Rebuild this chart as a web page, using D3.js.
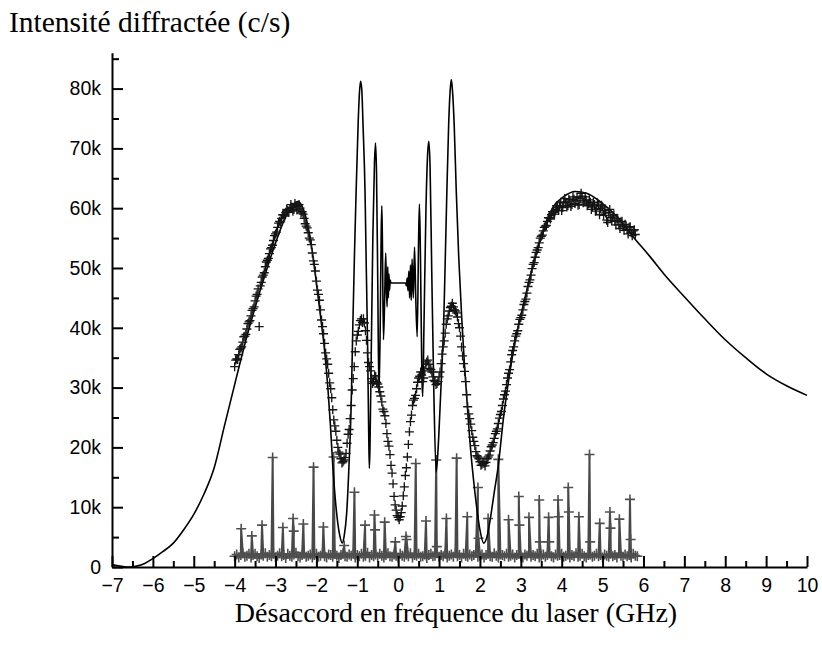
<!DOCTYPE html>
<html><head><meta charset="utf-8">
<script src="https://cdn.jsdelivr.net/npm/d3@7"></script>
<style>body{margin:0;background:#fff}</style></head>
<body><svg id="c" width="822" height="648"></svg>
<script>
// ---------- DATA ----------
// theoretical curve (GHz, kcounts/s)
const theoryX = [-7.0,-6.85,-6.7,-6.55,-6.4,-6.2,-6.0,-5.75,-5.5,-5.25,-5.0,-4.75,-4.5,-4.25,-4.0,-3.75,-3.5,-3.25,-3.0,-2.75,-2.6,-2.45,-2.35,-2.2,-2.1,-2.0,-1.9,-1.8,-1.72,-1.66,-1.6,-1.54,-1.48,-1.42,-1.37,-1.32,-1.26,-1.2,-1.15,-1.11,-1.07,-1.03,-0.98,-0.95,-0.92,-0.89,-0.86,-0.81,-0.78,-0.75,-0.72,-0.705,-0.69,-0.66,-0.62,-0.58,-0.555,-0.53,-0.5,-0.47,-0.44,-0.415,-0.40,-0.385,-0.36,-0.33,-0.305,-0.285,-0.27,-0.255,-0.24,-0.225,-0.21,-0.195,-0.18,0.18,0.20,0.22,0.24,0.26,0.28,0.30,0.32,0.34,0.37,0.40,0.43,0.465,0.50,0.52,0.545,0.58,0.60,0.63,0.68,0.72,0.75,0.78,0.82,0.87,0.93,0.97,1.02,1.08,1.11,1.15,1.19,1.235,1.27,1.30,1.33,1.37,1.42,1.48,1.56,1.62,1.69,1.78,1.84,1.92,2.0,2.09,2.17,2.25,2.35,2.45,2.57,2.74,2.90,3.07,3.31,3.55,3.80,4.04,4.33,4.61,4.94,5.35,5.75,6.16,6.5,7.0,7.5,8.0,8.5,9.0,9.5,10.0];
const theoryY = [0.4,0.2,0.05,0,0.15,0.6,1.4,2.6,4.0,6.2,8.8,12.2,16.6,23.6,30.5,37.3,43.4,49.0,54.2,58.6,60.3,61.1,60.3,56.8,52.8,47.5,42.0,36.2,30.0,24.0,17.0,11.5,7.5,5.0,4.0,5.2,9.0,17.5,27.0,40.0,52.0,62.5,74.0,79.0,81.2,79.8,74.0,62.5,50.0,38.0,22.0,16.5,20.0,35.0,55.0,67.5,70.9,66.0,48.0,29.0,40.0,56.0,60.4,54.0,38.0,45.0,52.5,46.0,43.5,50.2,45.0,49.0,46.3,48.0,47.5,47.5,47.0,48.3,46.2,49.5,45.0,50.5,44.6,51.5,45.0,53.5,45.0,38.5,55.0,60.7,52.0,32.0,28.5,40.0,60.0,69.0,71.2,67.0,50.0,30.0,15.9,19.0,26.0,35.0,40.0,51.0,62.5,74.0,79.5,81.5,79.5,74.0,63.0,52.0,41.0,34.0,27.0,19.0,14.8,10.0,6.2,4.0,5.0,7.9,12.5,17.0,24.6,32.9,39.1,44.1,50.8,56.4,60.3,61.9,62.8,62.5,61.1,58.6,55.2,51.9,49.0,45.2,41.5,38.0,35.0,32.3,30.3,28.7];

// measured diffracted intensity (k c/s): run A from -4.000 GHz, run B from -3.975 GHz, both in 0.05 GHz steps
const measStartA = -4.0, measStartB = -3.975, measStep = 0.05;
const measA = [33.5,34.8,35.5,36.6,37.6,38.6,39.8,41.0,42.0,43.2,44.5,45.6,40.2,47.6,48.8,50.2,51.3,52.4,53.4,54.6,
55.7,56.8,57.8,58.3,58.9,59.3,59.6,59.9,60.1,59.8,60.4,60.3,60.0,59.4,58.3,57.0,55.9,54.7,52.5,50.6,
47.8,45.6,43.0,40.2,37.4,34.8,32.4,29.8,26.3,23.6,21.2,19.2,18.1,17.6,18.3,20.7,23.0,27.0,31.5,36.0,
38.8,40.5,41.5,41.5,39.5,35.8,33.5,31.5,31.0,31.8,30.6,29.3,27.6,26.0,24.0,21.0,18.8,15.7,11.8,9.5,
8.3,8.4,10.2,13.4,16.6,20.5,24.3,27.0,28.2,29.8,31.6,32.6,31.0,32.8,34.3,33.9,33.0,31.8,31.0,30.7,
31.8,34.0,36.8,39.1,41.5,42.8,43.6,43.5,42.8,41.8,40.0,36.8,34.0,31.0,26.8,24.8,22.8,21.0,19.3,18.4,
17.6,17.2,17.3,17.5,18.4,19.4,20.4,21.5,22.7,24.0,25.5,27.0,28.8,30.5,32.4,34.3,36.2,37.8,39.0,40.6,
41.7,43.0,44.4,45.8,47.6,48.8,50.6,51.8,53.0,54.2,55.3,56.2,57.0,57.8,58.4,58.9,59.3,59.8,60.1,60.4,
59.6,60.9,61.0,60.4,61.2,60.6,61.5,61.3,60.5,61.6,62.0,61.2,61.3,60.7,61.0,60.2,60.6,59.8,60.5,59.9,
60.2,59.6,58.0,59.3,58.4,58.7,57.8,58.3,57.2,57.7,56.9,57.3,56.4,56.8,55.9,56.2,55.6];
const measB = [34.6,34.7,36.4,36.8,38.5,38.9,40.7,41.2,42.9,43.5,45.3,46.5,47.0,48.5,49.2,51.0,51.6,53.2,53.8,55.4,
56.0,57.5,57.7,58.9,58.7,59.8,59.3,60.6,59.5,60.8,59.7,60.6,59.2,59.0,57.4,56.7,55.0,53.9,51.2,49.5,
46.3,44.6,41.3,39.0,35.8,33.9,30.8,28.3,24.6,22.7,20.0,18.9,17.4,17.9,19.0,22.2,24.8,29.6,33.5,37.8,
39.4,41.2,40.9,40.8,37.9,34.2,32.8,30.7,32.0,30.9,30.1,28.6,26.4,25.3,22.3,20.2,17.0,13.9,10.4,8.6,
7.9,9.1,11.9,15.3,18.4,22.6,25.4,27.9,28.7,30.9,31.9,32.1,31.6,33.9,34.6,33.2,32.6,31.2,30.5,31.0,
32.6,35.6,37.8,40.6,42.0,43.4,44.1,43.0,42.5,40.7,38.6,35.3,32.7,28.8,25.6,23.9,21.7,20.3,18.6,18.1,
17.0,17.6,16.9,18.1,18.7,20.1,20.8,22.3,23.1,24.9,26.0,28.1,29.4,31.6,33.0,35.5,36.8,38.6,39.5,41.4,
42.1,43.9,44.8,46.9,48.0,49.9,50.9,52.6,53.4,55.0,55.5,56.8,57.1,58.4,58.2,59.4,59.0,60.4,59.6,61.0,
60.1,61.6,60.2,61.5,60.3,61.9,60.8,61.8,60.6,62.5,60.9,61.9,60.4,61.4,59.8,61.0,59.5,60.9,58.9,60.5,
58.8,59.2,57.6,59.8,57.9,58.9,57.2,58.0,56.6,57.8,56.3,57.0,55.7,56.9,55.4,56.4];

// background series: baseline from -4.0 GHz in 0.05 GHz steps, plus spikes and their shoulders
const bgStart = -4.0, bgStep = 0.05;
const bgBase = [1.8,2.1,1.6,2.0,2.3,1.7,1.9,2.2,1.6,2.0,2.2,1.8,1.5,2.1,1.9,2.3,1.7,2.0,1.8,2.2,
1.6,1.9,2.3,1.8,2.0,1.5,2.2,1.9,1.7,2.1,2.4,1.8,1.6,2.0,2.2,1.7,1.9,2.1,1.6,2.0,
2.2,1.7,1.9,2.3,1.8,1.6,2.1,2.0,1.7,2.2,1.9,1.5,2.0,2.3,1.8,1.7,2.1,1.9,2.2,1.6,
2.0,1.8,2.2,1.7,1.9,2.4,1.6,2.0,1.8,2.1,1.7,2.2,1.9,1.6,2.0,2.3,1.8,1.7,2.1,1.9,
1.6,2.2,1.9,1.7,2.1,1.8,2.3,1.6,2.0,1.9,2.2,1.7,1.8,2.1,1.5,2.0,2.2,1.8,1.9,2.3,
1.7,2.0,1.8,2.2,1.6,1.9,2.1,1.7,2.3,1.8,2.0,1.6,2.2,1.9,1.7,2.1,1.8,2.0,2.4,1.7,
1.9,2.1,1.6,2.0,2.2,1.8,1.7,2.3,1.9,1.6,2.1,2.0,1.8,2.2,1.7,1.9,2.1,1.6,2.0,2.2,
1.8,1.6,2.1,1.9,2.3,1.7,2.0,1.8,2.2,1.6,1.9,2.1,1.7,2.0,2.3,1.8,1.6,2.1,1.9,2.0,
2.2,1.7,1.9,2.1,1.6,2.0,1.8,2.3,1.7,1.9,2.2,1.8,1.6,2.0,2.1,1.7,1.9,2.2,1.8,2.0,
1.6,2.1,1.9,1.7,2.2,1.8,2.0,1.6,2.3,1.9,1.7,2.1,1.8,2.0,1.6,2.2,1.9,1.8];
const spikeX = [-3.84,-3.58,-3.33,-3.07,-2.82,-2.57,-2.32,-2.07,-1.83,-1.58,-1.32,-1.07,-0.81,-0.58,-0.33,-0.07,0.19,0.43,0.68,0.93,1.18,1.43,1.69,1.95,2.20,2.45,2.70,2.95,3.20,3.45,3.68,3.91,4.16,4.42,4.68,4.93,5.18,5.41,5.67];
const spikeY = [6.4,5.2,7.0,18.3,6.6,8.1,7.2,16.7,6.7,18.4,3.6,12.5,7.0,8.7,7.5,4.2,5.1,17.3,7.7,17.9,8.1,18.2,8.4,13.3,8.1,18.0,7.9,11.8,8.3,11.2,8.3,11.2,13.3,8.4,18.8,7.3,9.2,8.0,11.3];
const shoulderX = [-2.555,-0.565,0.205,0.945,1.965,2.965,3.465,3.695,3.925,4.175,4.695,5.195,5.685];
const shoulderY = [6.0,6.2,4.6,3.4,4.8,7.0,4.2,4.2,8.4,9.2,4.2,6.5,4.6];

const xMajorTicks = [-7,-6,-5,-4,-3,-2,-1,0,1,2,3,4,5,6,7,8,9,10];
const yMajorTicks = [0,10,20,30,40,50,60,70,80];
const yTickLabels = ["0","10k","20k","30k","40k","50k","60k","70k","80k"];

// ---------- BUILD ----------
const theory = theoryX.map((x,i)=>({x, y: theoryY[i]}));
const meas = measA.map((y,i)=>({x: measStartA + i*measStep, y}))
  .concat(measB.map((y,i)=>({x: measStartB + i*measStep, y})));
const bg = bgBase.map((y,i)=>({x: bgStart + i*bgStep, y}))
  .concat(spikeX.map((x,i)=>({x, y: spikeY[i]})))
  .concat(shoulderX.map((x,i)=>({x, y: shoulderY[i]})))
  .sort((a,b)=>a.x-b.x);

const svg = d3.select("#c");
const x = d3.scaleLinear().domain([-7,10]).range([112,807]);
const y = d3.scaleLinear().domain([0,86]).range([567,52.7]);

const plus = "M-4.5,0H4.5M0,-4.5V4.5";
const plusBig = "M-5,0H5M0,-5V5";

// background series
svg.append("path").datum(bg)
  .attr("d", d3.line().x(d=>x(d.x)).y(d=>y(d.y)))
  .attr("fill","none").attr("stroke","#484848").attr("stroke-width",2);
svg.append("g").selectAll("path").data(bg).join("path")
  .attr("transform", d=>`translate(${x(d.x)},${y(d.y)})`)
  .attr("d", plusBig).attr("stroke","#4f4f4f").attr("stroke-width",1.6);

// theory
svg.append("path").datum(theory)
  .attr("d", d3.line().curve(d3.curveMonotoneX).x(d=>x(d.x)).y(d=>y(d.y)))
  .attr("fill","none").attr("stroke","#000").attr("stroke-width",1.6);

// measured
svg.append("g").selectAll("path").data(meas).join("path")
  .attr("transform", d=>`translate(${x(d.x)},${y(d.y)})`)
  .attr("d", plus).attr("stroke","#151515").attr("stroke-width",1.35);

// axes
const xMinor = xMajorTicks.slice(0,-1).map(v=>v+0.5);
const yMinor = yMajorTicks.map(v=>v+5);

const gx = svg.append("g").attr("transform","translate(0,567)");
gx.call(d3.axisBottom(x).tickValues(xMajorTicks).tickSize(-11).tickPadding(11).tickSizeOuter(0).tickFormat(d3.format("d")));
gx.append("g").call(d3.axisBottom(x).tickValues(xMinor).tickSize(-6).tickFormat("").tickSizeOuter(0))
  .select(".domain").remove();

const gy = svg.append("g").attr("transform","translate(112,0)");
gy.call(d3.axisLeft(y).tickValues(yMajorTicks).tickSize(-11).tickPadding(11).tickSizeOuter(0).tickFormat((d,i)=>yTickLabels[i]));
gy.append("g").call(d3.axisLeft(y).tickValues(yMinor).tickSize(-7).tickFormat("").tickSizeOuter(0))
  .select(".domain").remove();

svg.selectAll(".domain").attr("stroke","#000").attr("stroke-width",2);
svg.selectAll(".tick line").attr("stroke","#000").attr("stroke-width",2);
svg.selectAll(".tick text").attr("font-family","'Liberation Sans', Arial, sans-serif")
  .attr("font-size",19.5).attr("fill","#000");

svg.append("text").attr("x",9).attr("y",32)
  .attr("font-family","'Liberation Serif','Times New Roman',serif").attr("font-size",29.5)
  .text("Intensité diffractée (c/s)");
svg.append("text").attr("x",456).attr("y",622).attr("text-anchor","middle")
  .attr("font-family","'Liberation Serif','Times New Roman',serif").attr("font-size",28)
  .text("Désaccord en fréquence du laser (GHz)");
</script></body></html>
